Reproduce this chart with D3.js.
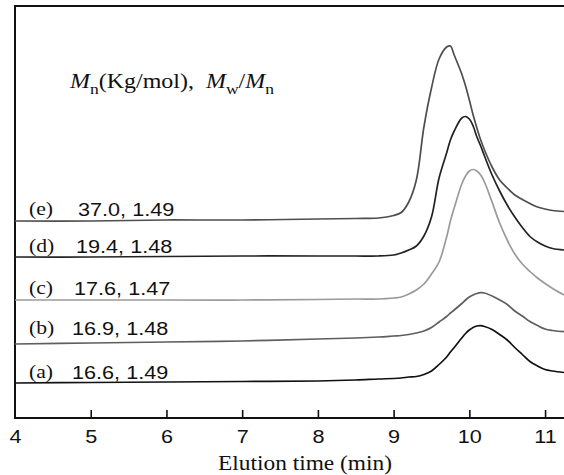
<!DOCTYPE html>
<html><head><meta charset="utf-8">
<script src="https://cdn.jsdelivr.net/npm/d3@7"></script>
<style>body{margin:0;background:#fff;}svg{display:block;}</style>
</head><body>
<svg id="chart" width="564" height="475"></svg>
<script>
// Elution time grid (min)
const times = [4,5,6,7,8,8.5,8.8,9,9.1,9.2,9.3,9.4,9.5,9.6,9.7,9.75,9.8,9.9,9.95,10,10.05,10.1,10.15,10.2,10.3,10.4,10.5,10.6,10.7,10.8,10.9,11,11.1,11.25];
// Detector signal (arbitrary units, traces offset vertically)
const seriesA = [35,35.5,36,36.5,37,38,39,39.5,40,41,41.5,43.5,47,53.5,61,66,70.5,80,84.5,88,90.5,92,92.3,91.5,88.5,83.5,78,70.5,63.5,56.5,52,48.5,47,45.5];
const seriesB = [74,75,76,77,79,80,81,82,82.5,83.5,85,87,90.5,96,101.5,105,108,114.5,118,121,123,124.5,125.3,125,122,118,113.5,107,102,96.5,92.5,89,87.5,86.3];
const seriesC = [118,118,118,118,118.5,119,119,120,121,124,128,134,144,156,181,197,210,234,242,247,248.5,247,243,236,216,195,178,164,154,146.5,140,134.5,129.5,123];
const seriesD = [161,161,161.5,162,162,162,162,163,165,168,172,182,201,240,265,278,287,300,301.5,299,292,281,272,262,243,227,213,201,190.5,181.5,176,172,169.5,168];
const seriesE = [197,197,198,198,199,199.5,200,202.5,205.5,216,238,291,330,359,371,372,363,344,332,318,303,290,278,268,251,238,230,223,218.5,214.5,211,209,207.5,206.5];
const letters = ["(a)","(b)","(c)","(d)","(e)"];
const sampleLabels = ["16.6, 1.49","16.9, 1.48","17.6, 1.47","19.4, 1.48","37.0, 1.49"];
const xTicks = [4,5,6,7,8,9,10,11];

const allSeries = [seriesA, seriesB, seriesC, seriesD, seriesE];
const colors = ["#111111","#5e5e5e","#9a9a9a","#222222","#4e4e4e"];
const labelSignal = [39, 83, 123, 165, 202]; // label baseline heights in signal units
const numX = [72, 72, 74, 76, 78];
const SX = 1.17; // horizontal stretch of the original artwork's text
const SANS = "'Liberation Sans', Arial, sans-serif";
const SERIF = "'Liberation Serif', 'Times New Roman', serif";

const svg = d3.select("#chart");
const x = d3.scaleLinear().domain([4, 11.25]).range([15, 564]);
const y = d3.scaleLinear().domain([0, 412]).range([418, 6]);

// frame top
svg.append("line").attr("x1",14).attr("x2",564).attr("y1",6).attr("y2",6)
  .attr("stroke","#111").attr("stroke-width",2);
// left axis
svg.append("line").attr("x1",15).attr("x2",15).attr("y1",5).attr("y2",419)
  .attr("stroke","#111").attr("stroke-width",2);

// bottom axis
const xAxis = d3.axisBottom(x).tickValues(xTicks).tickSize(-8).tickPadding(12).tickFormat(d3.format("d"));
const gx = svg.append("g").attr("transform","translate(0,418)").call(xAxis);
gx.select(".domain").attr("stroke","#111").attr("stroke-width",2).attr("d","M14,0H564");
gx.selectAll(".tick line").attr("stroke","#111").attr("stroke-width",1.6)
  .filter(d => d === 4).remove();
gx.selectAll(".tick text").style("font-family",SANS)
  .attr("font-size",18.5).attr("fill","#111").attr("transform",`scale(${SX},1)`);

svg.append("text").attr("transform",`translate(305,470) scale(${SX},1)`).attr("text-anchor","middle")
  .style("font-family",SERIF).attr("font-size",20)
  .attr("fill","#111").text("Elution time (min)");

// traces
const line = d3.line().x((d,i) => x(times[i])).y(d => y(d)).curve(d3.curveCatmullRom.alpha(0.5));
allSeries.forEach((s,k) => {
  svg.append("path").attr("d", line(s)).attr("fill","none")
    .attr("stroke", colors[k]).attr("stroke-width",1.7).attr("stroke-linejoin","round");
});

// labels
letters.forEach((l,k) => {
  const by = y(labelSignal[k]);
  svg.append("text").attr("transform",`translate(29,${by-1}) scale(${SX},1)`)
    .style("font-family",SERIF).attr("font-size",18.5)
    .attr("fill","#111").text(l);
  svg.append("text").attr("transform",`translate(${numX[k]},${by}) scale(${SX},1)`)
    .style("font-family",SANS).attr("font-size",18.5)
    .attr("fill","#111").text(sampleLabels[k]);
});

// heading
const t = svg.append("text").attr("transform",`translate(70,88) scale(${SX},1)`)
  .style("font-family",SERIF).attr("font-size",20.5).attr("fill","#111");
t.append("tspan").attr("font-style","italic").text("M");
t.append("tspan").attr("font-size",15).attr("dy",6).text("n");
t.append("tspan").attr("dy",-6).text("(Kg/mol),\u00a0\u00a0");
t.append("tspan").attr("font-style","italic").text("M");
t.append("tspan").attr("font-size",15).attr("dy",6).text("w");
t.append("tspan").attr("dy",-6).text("/");
t.append("tspan").attr("font-style","italic").text("M");
t.append("tspan").attr("font-size",15).attr("dy",6).text("n");
</script>
</body></html>
